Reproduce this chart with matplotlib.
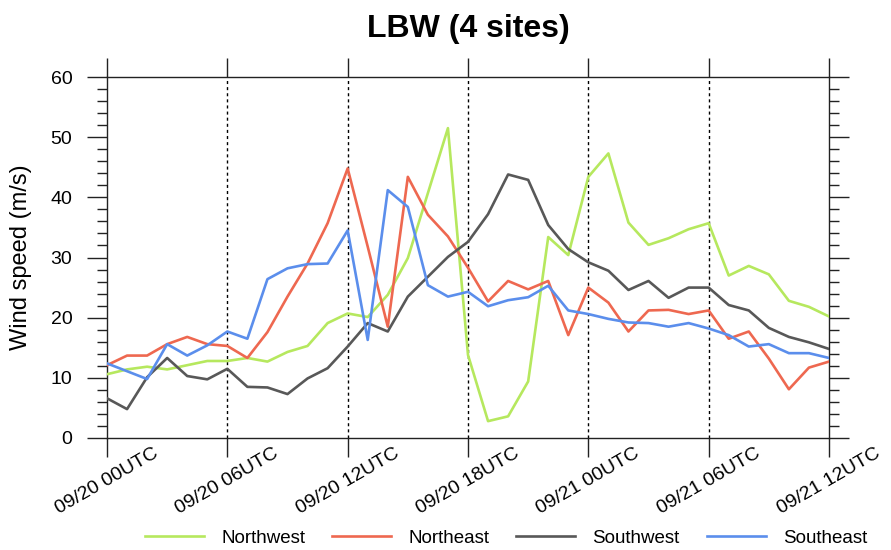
import numpy as np
import matplotlib
matplotlib.use('Agg')
import matplotlib.pyplot as plt
from matplotlib.ticker import MultipleLocator

plt.rcParams['font.family'] = ['Liberation Sans', 'DejaVu Sans']

# hourly wind speed (m/s) averaged per quadrant, 09/20 00UTC - 09/21 12UTC
hours = list(range(37))
northwest = [10.6, 11.4, 11.85, 11.4, 12.1, 12.8, 12.8, 13.3, 12.7, 14.3,
             15.3, 19.1, 20.7, 20.1, 23.8, 29.9, 40.7, 51.5, 13.8, 2.8,
             3.6, 9.4, 33.4, 30.4, 43.4, 47.3, 35.8, 32.1, 33.2, 34.7,
             35.7, 27.0, 28.6, 27.2, 22.8, 21.8, 20.2]
northeast = [12.1, 13.7, 13.7, 15.6, 16.8, 15.6, 15.3, 13.3, 17.6, 23.5,
             29.0, 35.7, 44.8, 31.8, 18.5, 43.4, 37.1, 33.5, 28.3, 22.7,
             26.1, 24.7, 26.1, 17.1, 25.0, 22.5, 17.7, 21.2, 21.3, 20.6,
             21.2, 16.5, 17.7, 13.2, 8.1, 11.7, 12.7]
southwest = [6.6, 4.8, 10.1, 13.3, 10.3, 9.75, 11.5, 8.5, 8.4, 7.3,
             9.9, 11.6, 15.2, 19.1, 17.7, 23.5, 26.8, 30.1, 32.6, 37.2,
             43.8, 42.9, 35.4, 31.4, 29.2, 27.8, 24.6, 26.1, 23.3, 25.0,
             25.0, 22.1, 21.2, 18.3, 16.8, 15.9, 14.8]
southeast = [12.4, 11.1, 9.8, 15.6, 13.7, 15.4, 17.7, 16.5, 26.4, 28.2,
             28.9, 29.0, 34.5, 16.3, 41.2, 38.4, 25.4, 23.5, 24.3, 21.9,
             22.9, 23.4, 25.3, 21.2, 20.6, 19.8, 19.2, 19.1, 18.5, 19.1,
             18.2, 17.1, 15.2, 15.6, 14.1, 14.1, 13.3]

tick_hours = [0, 6, 12, 18, 24, 30, 36]
tick_labels = ['09/20 00UTC', '09/20 06UTC', '09/20 12UTC', '09/20 18UTC',
               '09/21 00UTC', '09/21 06UTC', '09/21 12UTC']

series = [('Northwest', northwest, '#b6e85e'),
          ('Northeast', northeast, '#ee6850'),
          ('Southwest', southwest, '#585858'),
          ('Southeast', southeast, '#5b8eec')]

fig = plt.figure(figsize=(8.91, 5.5), dpi=100)
ax = fig.add_axes([107 / 891, 112 / 550, 722 / 891, 361 / 550])

for t in tick_hours[1:-1]:
    ax.axvline(t, color='black', lw=1.0, ls=(0, (2.2, 2.2)), zorder=1)

handles = []
for name, vals, col in series:
    h, = ax.plot(hours, vals, color=col, lw=1.9, label=name, zorder=3)
    handles.append(h)

ax.set_xlim(0, 36)
ax.set_ylim(0, 60)
ax.set_xticks(tick_hours)
ax.set_xticklabels(tick_labels, rotation=30, ha='center')
ax.yaxis.set_major_locator(MultipleLocator(10))
ax.yaxis.set_minor_locator(MultipleLocator(2))

for s in ax.spines.values():
    s.set_linewidth(1.0)
    s.set_color('#222222')

ax.tick_params(axis='x', which='major', direction='out', length=13.7, width=1.0,
               top=True, labelsize=14, pad=-9, color='#222222')
ax.tick_params(axis='y', which='major', direction='out', length=14.4, width=1.0,
               right=True, labelsize=14, pad=10.5, color='#222222')
ax.tick_params(axis='y', which='minor', direction='out', length=7.2, width=1.0,
               right=True, color='#222222')

ax.set_ylabel('Wind speed (m/s)', fontsize=17)
ax.yaxis.set_label_coords(-0.104, 0.5)

fig.text(468 / 891, 1 - 37 / 550, 'LBW (4 sites)', ha='center', va='baseline',
         fontsize=23, fontweight='bold')

fig.legend(handles=handles, loc='center', bbox_to_anchor=(506 / 891, 1 - 538 / 550),
           ncol=4, frameon=False, fontsize=13.5, handlelength=3.15,
           handletextpad=0.9, columnspacing=1.45)

fig.savefig('out.png', dpi=100)
